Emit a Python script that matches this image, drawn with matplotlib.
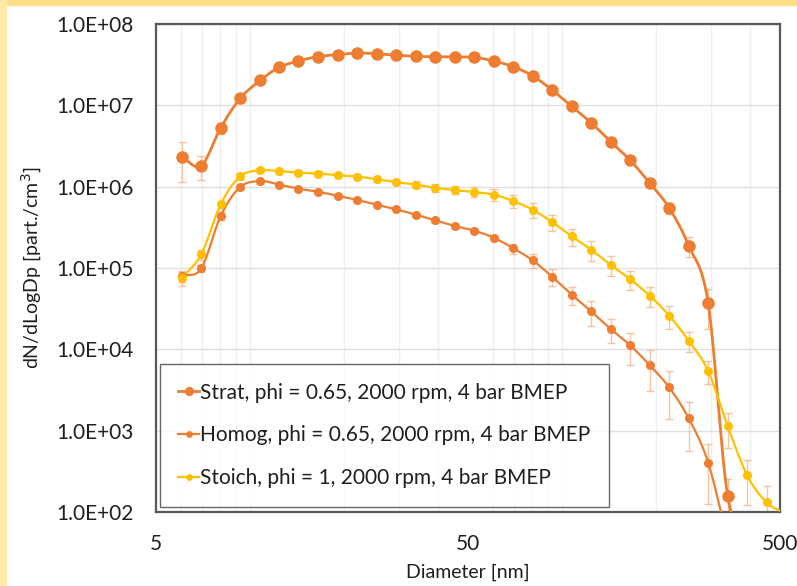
import numpy as np
import matplotlib
matplotlib.use("Agg")
import matplotlib.pyplot as plt
from matplotlib.ticker import FixedLocator, NullFormatter

plt.rcParams['font.family'] = ['Lato', 'DejaVu Sans']

# particle diameter bins [nm]
dp = [6.04, 6.98, 8.06, 9.31, 10.8, 12.4, 14.3, 16.5, 19.1, 22.1, 25.5, 29.4, 34.0, 39.2,
      45.3, 52.3, 60.4, 69.8, 80.6, 93.1, 107.5, 124.1, 143.3, 165.5, 191.1, 220.7, 254.8,
      294.3, 339.8, 392.4, 453.2, 523.3]

strat = [2.33e6, 1.81e6, 5.3e6, 1.22e7, 2.03e7, 2.93e7, 3.51e7, 3.97e7, 4.2e7, 4.4e7, 4.3e7,
         4.16e7, 4.0e7, 3.97e7, 3.93e7, 3.9e7, 3.51e7, 2.99e7, 2.3e7, 1.54e7, 9.7e6, 6.1e6,
         3.57e6, 2.11e6, 1.11e6, 5.47e5, 1.88e5, 3.68e4, 158, 50]
strat_err = [1.2e6, 6e5, 8e5, 1.5e6, 1.5e6, 2e6, 2e6, 2e6, 2e6, 2e6, 2e6, 2e6, 2e6, 2e6, 2e6,
             2e6, 2e6, 2e6, 1.5e6, 1.2e6, 8e5, 5e5, 3e5, 2.2e5, 1.2e5, 9e4, 5e4, 1.9e4, 100, 30]

homog = [8.0e4, 9.9e4, 4.36e5, 9.9e5, 1.17e6, 1.06e6, 9.45e5, 8.67e5, 7.74e5, 6.85e5, 6.0e5,
         5.26e5, 4.53e5, 3.86e5, 3.28e5, 2.88e5, 2.36e5, 1.75e5, 1.24e5, 7.8e4, 4.7e4, 2.93e4,
         1.78e4, 1.12e4, 6.4e3, 3.4e3, 1.42e3, 404, 45]
homog_err = [1.2e4, 1e4, 5e4, 8e4, 8e4, 6e4, 5e4, 5e4, 4e4, 4e4, 3.5e4, 3e4, 2.5e4, 2.5e4, 2e4,
             2e4, 2e4, 2.5e4, 2.3e4, 1.8e4, 1.2e4, 1e4, 6e3, 4.8e3, 3.3e3, 2e3, 850, 280, 30]

stoich = [7.5e4, 1.47e5, 6.07e5, 1.34e6, 1.59e6, 1.55e6, 1.49e6, 1.45e6, 1.38e6, 1.33e6, 1.23e6,
          1.14e6, 1.06e6, 9.7e5, 9.1e5, 8.6e5, 7.97e5, 6.67e5, 5.2e5, 3.67e5, 2.45e5, 1.68e5,
          1.09e5, 7.3e4, 4.57e4, 2.6e4, 1.28e4, 5.4e3, 1.14e3, 282, 131, 95]
stoich_err = [1.5e4, 2e4, 6e4, 1.2e5, 1.2e5, 1e5, 1e5, 1e5, 1e5, 1e5, 1e5, 1e5, 1e5, 1e5, 1e5,
              1.2e5, 1.3e5, 1.2e5, 1.1e5, 8e4, 6e4, 4.5e4, 3e4, 2e4, 1.3e4, 8e3, 3.5e3, 1.7e3,
              520, 160, 80, 50]

labels = ['Strat, phi = 0.65, 2000 rpm, 4 bar BMEP',
          'Homog, phi = 0.65, 2000 rpm, 4 bar BMEP',
          'Stoich, phi = 1, 2000 rpm, 4 bar BMEP']

ORANGE = '#ED7D31'
YELLOW = '#FFC000'
ERRC = '#F4B183'
TXT = '#1F1F1F'


def smooth(x, y, n=16):
    # Catmull-Rom curve through the points in log-log space (like Excel smoothed lines)
    lx, ly = np.log10(x), np.log10(y)
    px = np.concatenate([[2 * lx[0] - lx[1]], lx, [2 * lx[-1] - lx[-2]]])
    py = np.concatenate([[2 * ly[0] - ly[1]], ly, [2 * ly[-1] - ly[-2]]])
    t = np.linspace(0, 1, n)[:, None]
    xs, ys = [], []
    for i in range(1, len(px) - 2):
        for arr, out in ((px, xs), (py, ys)):
            p0, p1, p2, p3 = arr[i - 1], arr[i], arr[i + 1], arr[i + 2]
            m1 = (p2 - p0) / 2
            m2 = (p3 - p1) / 2
            h = (2 * t**3 - 3 * t**2 + 1) * p1 + (t**3 - 2 * t**2 + t) * m1 \
                + (-2 * t**3 + 3 * t**2) * p2 + (t**3 - t**2) * m2
            out.append(h.ravel())
    return 10 ** np.concatenate(xs), 10 ** np.concatenate(ys)


fig = plt.figure(figsize=(7.97, 5.86), dpi=100)
fig.patch.set_facecolor('white')
# yellow frame strips of the slide
fig.patches.append(plt.Rectangle((0, 1 - 5 / 586), 1, 5 / 586, transform=fig.transFigure,
                                 color='#FFE08A', zorder=0))
fig.patches.append(plt.Rectangle((0, 0), 6 / 797, 1, transform=fig.transFigure,
                                 color='#FFE9A8', zorder=0))

ax = fig.add_axes([156 / 797, 74 / 586, 624 / 797, 488 / 586])

series = [
    (strat, strat_err, ORANGE, 8, 2.0, labels[0]),
    (homog, homog_err, ORANGE, 5.5, 1.6, labels[1]),
    (stoich, stoich_err, YELLOW, 5.5, 1.6, labels[2]),
]
handles = []
for vals, err, col, ms, lw, lab in series:
    x = dp[:len(vals)]
    ax.errorbar(x, vals, yerr=err, fmt='none', ecolor=ERRC, elinewidth=1.0,
                capsize=3, capthick=1.0, alpha=0.75, zorder=2)
    sx, sy = smooth(x, vals)
    ax.plot(sx, sy, color=col, lw=lw, zorder=3)
    ax.plot(x, vals, 'o', color=col, ms=ms, zorder=4)
    h, = ax.plot([], [], '-o', color=col, lw=lw, ms=ms * 0.7, label=lab)
    handles.append(h)

ax.set_xscale('log')
ax.set_yscale('log')
ax.set_xlim(5, 500)
ax.set_ylim(1e2, 1e8)

ax.xaxis.set_major_locator(FixedLocator([5, 50, 500]))
ax.set_xticklabels(['5', '50', '500'])
ax.xaxis.set_minor_locator(FixedLocator([v * 10 ** k for k in (0, 1, 2) for v in range(1, 10)]))
ax.xaxis.set_minor_formatter(NullFormatter())
ax.yaxis.set_major_locator(FixedLocator([10.0 ** k for k in range(2, 9)]))
ax.set_yticklabels(['1.0E+%02d' % k for k in range(2, 9)])
ax.yaxis.set_minor_locator(FixedLocator([]))

ax.grid(True, which='major', axis='y', color='#E0E0E0', lw=1.0)
ax.grid(True, which='minor', axis='x', color='#EFEFEF', lw=1.0)
ax.set_axisbelow(True)
ax.tick_params(which='both', length=0, labelsize=15, colors=TXT)
ax.tick_params(axis='y', pad=16)
ax.tick_params(axis='x', pad=16)

for s in ax.spines.values():
    s.set_color('#595959')
    s.set_linewidth(1.6)

ax.set_xlabel('Diameter [nm]', fontsize=14, color=TXT, labelpad=7)
ax.set_ylabel('dN/dLogDp [part./cm$^3$]', fontsize=14, color=TXT, labelpad=9)

leg = ax.legend(handles=handles, loc='lower left', bbox_to_anchor=(0.006, 0.01),
                fontsize=15, frameon=True, fancybox=False, handlelength=1.0,
                handletextpad=0.05, labelspacing=1.1, borderpad=0.9, borderaxespad=0)
leg.get_frame().set_edgecolor('#404040')
leg.get_frame().set_linewidth(1.0)
for t in leg.get_texts():
    t.set_color(TXT)

fig.savefig('out.png', dpi=100)
